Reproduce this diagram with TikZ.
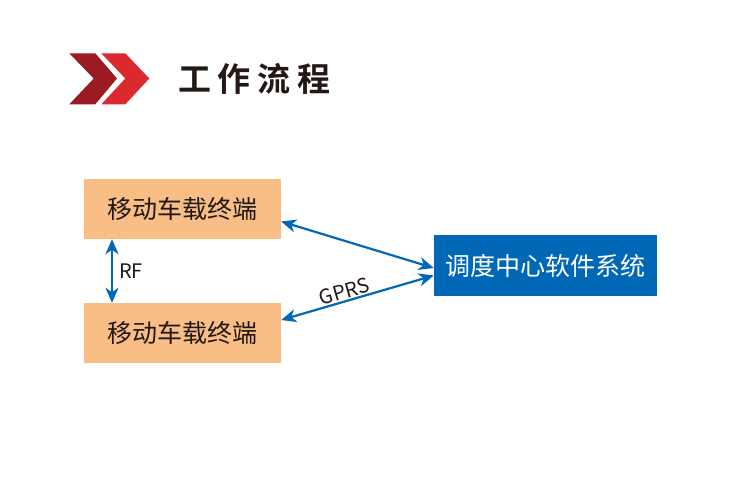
\documentclass[tikz,border=0pt]{standalone}
\usepackage{fontspec}
\setmainfont{Noto Sans CJK SC}[BoldFont={Noto Sans CJK SC Bold}]
\usetikzlibrary{arrows.meta}
\definecolor{chevdark}{HTML}{9B1B22}
\definecolor{chevlight}{HTML}{DA2A30}
\definecolor{termfill}{HTML}{F8BE85}
\definecolor{centerblue}{HTML}{0068B7}
\definecolor{txt}{HTML}{231815}
\tikzset{
  termbox/.style={rectangle, fill=termfill, minimum width=197pt, minimum height=60pt, inner sep=0pt, text=txt, font=\fontsize{25}{25}\selectfont},
  centerbox/.style={rectangle, fill=centerblue, minimum width=223pt, minimum height=61pt, inner sep=0pt, text=white, font=\fontsize{25}{25}\selectfont},
  link/.style={draw=centerblue, line width=2.2pt, {Stealth[length=15pt,width=13pt,inset=4.5pt]}-{Stealth[length=15pt,width=13pt,inset=4.5pt]}},
  lbl/.style={text=txt, font=\fontsize{20}{20}\selectfont, inner sep=1pt}
}
\begin{document}
\begin{tikzpicture}[x=1pt,y=-1pt]
\useasboundingbox (0,0) rectangle (750,501);
\fill[white] (0,0) rectangle (750,501);
% chevrons
\fill[chevdark] (69.3,53.3) -- (95.3,53.3) -- (117,78.5) -- (95.3,104.3) -- (69.3,104.3) -- (93.7,78.5) -- cycle;
\fill[chevlight] (101.3,53.3) -- (125.3,53.3) -- (149.3,78.5) -- (125.3,104.3) -- (101.3,104.3) -- (125.3,78.5) -- cycle;
\node[text=txt, font=\bfseries\fontsize{33}{33}\selectfont, inner sep=0pt] (title) at (254.5,79) {工\kern7pt作\kern7pt流\kern7pt程};
% boxes
\node[termbox] (t1) at (182.5,209) {移动车载终端};
\node[termbox] (t2) at (182.5,333) {移动车载终端};
\node[centerbox] (c) at (545.5,265.5) {调度中心软件系统};
% connectors
\draw[link] (t1.south -| 112,0) -- (t2.north -| 112,0) node[midway, right=5pt, lbl] {RF};
\draw[link] ([yshift=-12.5pt]t1.east) -- ([yshift=-2.5pt]c.west);
\draw[link] ([yshift=13pt]t2.east) -- ([yshift=-10pt]c.west) node[pos=0.43, sloped, above=0pt, lbl] {GPRS};
\end{tikzpicture}
\end{document}
